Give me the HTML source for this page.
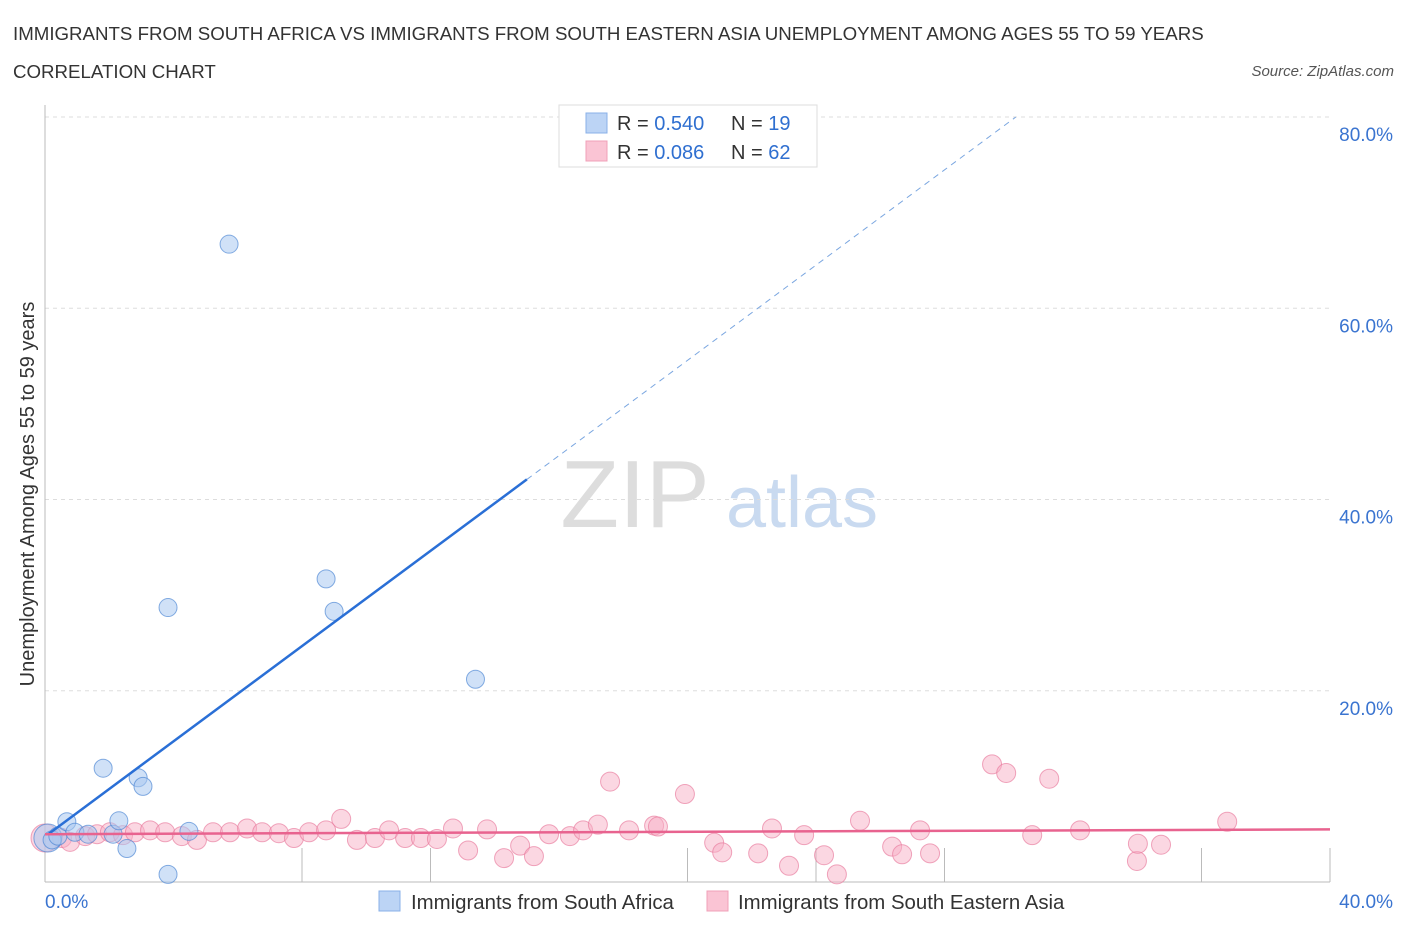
<!DOCTYPE html>
<html><head><meta charset="utf-8"><style>
body{margin:0;background:#fff;font-family:"Liberation Sans",sans-serif;}
svg text{font-family:"Liberation Sans",sans-serif;}
</style></head><body>
<svg id="chart" width="1406" height="930" xmlns="http://www.w3.org/2000/svg">
<text x="13" y="40" font-size="18.7" fill="#333">IMMIGRANTS FROM SOUTH AFRICA VS IMMIGRANTS FROM SOUTH EASTERN ASIA UNEMPLOYMENT AMONG AGES 55 TO 59 YEARS</text>
<text x="13" y="78" font-size="18.7" fill="#333">CORRELATION CHART</text>
<text x="1394" y="76" font-size="15" fill="#555" text-anchor="end" font-style="italic">Source: ZipAtlas.com</text>
<g>
<text x="635" y="527" font-size="96" fill="#ddd" font-family="Liberation Serif" text-anchor="middle">ZIP</text>
<text x="802" y="527" font-size="72" fill="#c9daf0" text-anchor="middle">atlas</text>
</g>
<g id="grid"></g>
<g id="axes"></g>
<g id="marks"></g>
<text transform="translate(34,494) rotate(-90)" font-size="20" fill="#333" text-anchor="middle">Unemployment Among Ages 55 to 59 years</text>
<g>
<rect x="559" y="105" width="258" height="62" fill="#fff" stroke="#ddd"/>
<rect x="586" y="113" width="21" height="20" fill="#bcd4f5" stroke="#8ab0e8"/>
<rect x="586" y="141" width="21" height="20" fill="#fac4d4" stroke="#f0a0b8"/>
<text x="617" y="130" font-size="20" fill="#333">R = <tspan fill="#2f6fd0">0.540</tspan></text>
<text x="731" y="130" font-size="20" fill="#333">N = <tspan fill="#2f6fd0"> 19</tspan></text>
<text x="617" y="159" font-size="20" fill="#333">R = <tspan fill="#2f6fd0">0.086</tspan></text>
<text x="731" y="159" font-size="20" fill="#333">N = <tspan fill="#2f6fd0">62</tspan></text>
</g>
<g>
<rect x="379" y="891" width="21" height="20" fill="#bcd4f5" stroke="#8ab0e8"/>
<text x="411" y="909" font-size="20.4" fill="#333">Immigrants from South Africa</text>
<rect x="707" y="891" width="21" height="20" fill="#fac4d4" stroke="#f0a0b8"/>
<text x="738" y="909" font-size="20.4" fill="#333">Immigrants from South Eastern Asia</text>
</g>
</svg>
<script>
const blueX=[0.09,0.22,0.4,0.68,0.93,1.34,1.81,2.12,2.3,2.55,2.9,3.05,3.83,3.83,4.48,5.73,8.75,9.0,13.4];
const blueY=[4.6,4.4,4.8,6.3,5.2,5.0,11.9,5.0,6.4,3.5,10.9,10.0,28.7,0.8,5.3,66.7,31.7,28.3,21.2];
const pinkX=[0.0,0.53,0.78,1.25,1.62,2.02,2.43,2.80,3.27,3.74,4.26,4.73,5.23,5.76,6.29,6.76,7.28,7.75,8.22,8.75,9.22,9.71,10.27,10.71,11.21,11.70,12.20,12.70,13.17,13.76,14.29,14.79,15.22,15.69,16.34,16.75,17.21,17.59,18.18,18.96,19.08,19.92,20.83,21.08,22.20,22.63,23.16,23.63,24.25,24.65,25.37,26.37,26.68,27.24,27.55,29.48,29.92,30.73,31.26,32.22,33.99,34.02,34.74,36.80];
const pinkY=[4.6,4.6,4.2,4.8,5.0,5.2,4.9,5.2,5.4,5.2,4.8,4.4,5.2,5.2,5.6,5.2,5.1,4.6,5.2,5.4,6.6,4.4,4.6,5.4,4.6,4.6,4.5,5.6,3.3,5.5,2.5,3.8,2.7,5.0,4.8,5.4,6.0,10.5,5.4,5.9,5.8,9.2,4.1,3.1,3.0,5.6,1.7,4.9,2.8,0.8,6.4,3.7,2.9,5.4,3.0,12.3,11.4,4.9,10.8,5.4,2.2,4.0,3.9,6.3];
const blueTrend=[4.75,2.49]; // intercept, slope
const pinkTrend=[5.0,0.0125];
const yTicks=[20,40,60,80];
const xTickVals=[0,4,8,12,16,20,24,28,32,36,40];
const xLabels=["0.0%","40.0%"];

const NS="http://www.w3.org/2000/svg";
const X=v=>45+v/40*1285, Y=v=>882-v/20*191.25;
function mk(tag,attrs,parent){const e=document.createElementNS(NS,tag);for(const k in attrs)e.setAttribute(k,attrs[k]);document.getElementById(parent).appendChild(e);return e;}
yTicks.forEach(t=>{
  const l=mk('line',{x1:45,x2:1330,y1:Y(t),y2:Y(t),stroke:'#ddd','stroke-dasharray':'4,4'},'grid');
  
  
  const tx=mk('text',{x:1393,y:Y(t)+24,'font-size':19,fill:'#3a74d0','text-anchor':'end'},'axes');
  tx.textContent=t.toFixed(1)+'%';
  
  
});
const ax=mk('line',{x1:45,x2:1330,y1:882,y2:882,stroke:'#bbb'},'axes');


const ay=mk('line',{x1:45,x2:45,y1:105,y2:882,stroke:'#bbb'},'axes');


xTickVals.forEach((t,i)=>{
  if(i==0||i==1||i==4||i==8) return;
  const l=mk('line',{x1:X(t),x2:X(t),y1:848,y2:882,stroke:'#bbb'},'axes');
  
  
});
const xl0=mk('text',{x:45,y:908,'font-size':19,fill:'#3a74d0'},'axes');xl0.textContent=xLabels[0];


const xl1=mk('text',{x:1393,y:908,'font-size':19,fill:'#3a74d0','text-anchor':'end'},'axes');xl1.textContent=xLabels[1];



pinkX.forEach((x,i)=>{
  const c=mk('circle',{cx:X(x),cy:Y(pinkY[i]),r:i==0?14:9.5,fill:'rgba(248,175,198,0.5)',stroke:'rgba(232,120,155,0.65)','stroke-width':1},'marks');
  
  
});
blueX.forEach((x,i)=>{
  const c=mk('circle',{cx:X(x),cy:Y(blueY[i]),r:i==0?14:9,fill:'rgba(170,200,240,0.55)',stroke:'rgba(70,130,210,0.65)','stroke-width':1},'marks');
  
  
});
const bEnd=15.0, bDashEnd=(80-blueTrend[0])/blueTrend[1];
const bl=mk('line',{x1:X(0.1),y1:Y(blueTrend[0]+blueTrend[1]*0.1),x2:X(bEnd),y2:Y(blueTrend[0]+blueTrend[1]*bEnd),stroke:'#2a6fd6','stroke-width':2.5},'marks');


const bd=mk('line',{x1:X(bEnd),y1:Y(blueTrend[0]+blueTrend[1]*bEnd),x2:X(bDashEnd),y2:Y(80),stroke:'#7aa6e0','stroke-width':1,'stroke-dasharray':'6,5'},'marks');


const pl=mk('line',{x1:X(0),y1:Y(pinkTrend[0]),x2:X(40),y2:Y(pinkTrend[0]+pinkTrend[1]*40),stroke:'#e8638f','stroke-width':2.5},'marks');


</script>
</body></html>
